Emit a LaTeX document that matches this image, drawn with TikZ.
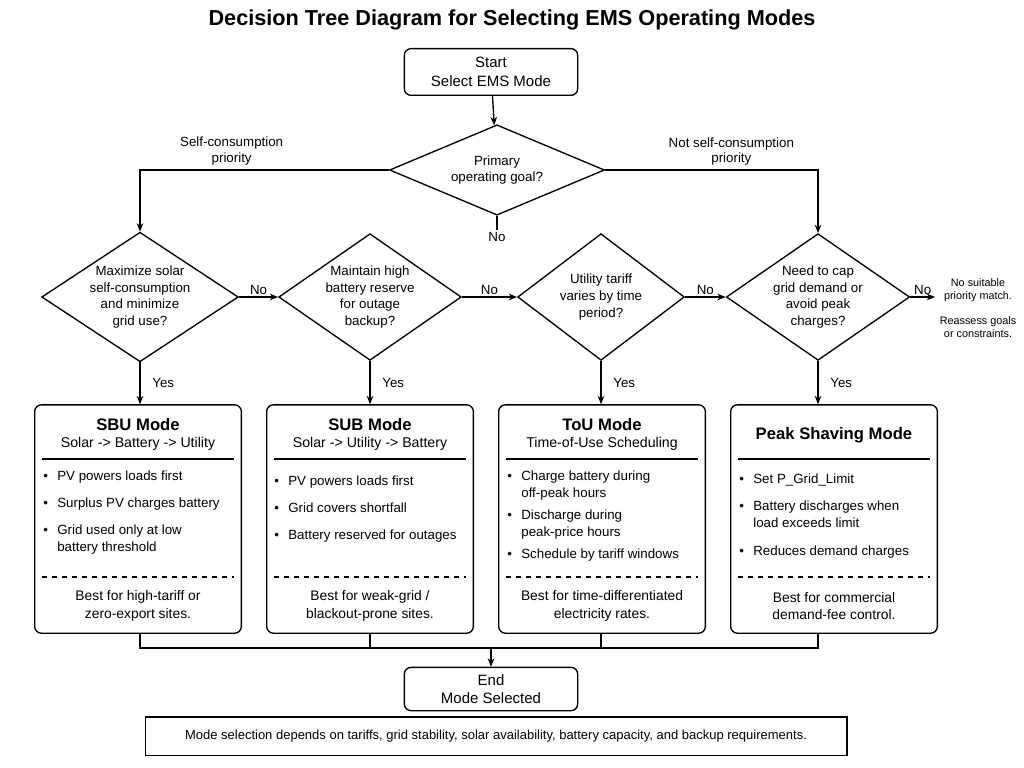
\documentclass[tikz,border=0pt]{standalone}
\usepackage{fontspec}
\setmainfont{Liberation Sans}
\usetikzlibrary{positioning}
\usetikzlibrary{shapes.geometric}
\usetikzlibrary{arrows.meta}
\tikzset{>={Stealth[length=5pt,width=4pt]}}
\tikzset{lbl/.style={font=\fontsize{8}{9.5}\selectfont,align=center,inner sep=1pt}}
\tikzset{term/.style={draw,thick,rounded corners=4pt,minimum width=104pt,minimum height=28pt,align=center,font=\fontsize{9}{11}\selectfont}}
\tikzset{dec/.style={draw,thick,diamond,aspect=1.5,inner sep=0pt,minimum width=118pt,minimum height=76pt,align=center,font=\fontsize{8}{10}\selectfont}}
\tikzset{mode/.style={draw,thick,rounded corners=4pt,minimum width=124pt,minimum height=137pt}}
\tikzset{btxt/.style={anchor=west,align=left,inner sep=0pt,font=\fontsize{8}{9.8}\selectfont}}
\newcommand{\bul}[3]{\node[btxt] at (#1+8,#2) {\textbullet}; \node[btxt,anchor=north west] at (#1+22,#2-6) {#3};}
\begin{document}
\begin{tikzpicture}[x=0.6pt,y=-0.6pt]
    \useasboundingbox (0,0) rectangle (1024,768);
    \node[font=\bfseries\fontsize{13}{15}\selectfont] (title) at (512,20) {Decision Tree Diagram for Selecting EMS Operating Modes};

    \node[term] (start) at (491,72) {Start\\Select EMS Mode};
    \node[dec,minimum width=129pt,minimum height=54pt] (goal) at (497,170) {Primary\\operating goal?};

    \node[dec] (d1) at (140,297) {Maximize solar\\self-consumption\\and minimize\\grid use?};
    \node[dec,minimum width=106pt] (d2) at (370,297) {Maintain high\\battery reserve\\for outage\\backup?};
    \node[dec,minimum width=100pt] (d3) at (601,297) {Utility tariff\\varies by time\\period?};
    \node[dec,minimum width=110pt] (d4) at (818,297) {Need to cap\\grid demand or\\avoid peak\\charges?};

    \node[lbl,font=\fontsize{6.5}{8}\selectfont] (nomatch) at (978,290) {No suitable\\priority match.};
    \node[lbl,font=\fontsize{6.5}{8}\selectfont] (reassess) at (978,327) {Reassess goals\\or constraints.};
    \coordinate (nm) at (935,297);

    % mode boxes
    \node[mode] (m1) at (138,519) {};
    \node[mode] (m2) at (370,519) {};
    \node[mode] (m3) at (602,519) {};
    \node[mode] (m4) at (834,519) {};
    \foreach \m/\x in {m1/138,m2/370,m3/602,m4/834} {
      \draw[thick] (\x-96,459) -- (\x+96,459);
      \draw[thick,dashed] (\x-96,577) -- (\x+96,577);
    }
    \node[font=\bfseries\fontsize{10}{12}\selectfont] at (138,425) {SBU Mode};
    \node[font=\fontsize{8.5}{10}\selectfont] at (138,444) {Solar -> Battery -> Utility};
    \node[font=\bfseries\fontsize{10}{12}\selectfont] at (370,425) {SUB Mode};
    \node[font=\fontsize{8.5}{10}\selectfont] at (370,444) {Solar -> Utility -> Battery};
    \node[font=\bfseries\fontsize{10}{12}\selectfont] at (602,425) {ToU Mode};
    \node[font=\fontsize{8.5}{10}\selectfont] at (602,444) {Time-of-Use Scheduling};
    \node[font=\bfseries\fontsize{10}{12}\selectfont] at (834,435) {Peak Shaving Mode};

    \bul{35}{477}{PV powers loads first}
    \bul{35}{504}{Surplus PV charges battery}
    \bul{35}{531}{Grid used only at low\\battery threshold}
    \bul{266}{482}{PV powers loads first}
    \bul{266}{509}{Grid covers shortfall}
    \bul{266}{536}{Battery reserved for outages}
    \bul{499}{477}{Charge battery during\\off-peak hours}
    \bul{499}{516}{Discharge during\\peak-price hours}
    \bul{499}{555}{Schedule by tariff windows}
    \bul{731}{480}{Set P\_Grid\_Limit}
    \bul{731}{507}{Battery discharges when\\load exceeds limit}
    \bul{731}{552}{Reduces demand charges}

    \node[lbl,font=\fontsize{8.3}{10.5}\selectfont] at (138,606) {Best for high-tariff or\\zero-export sites.};
    \node[lbl,font=\fontsize{8.3}{10.5}\selectfont] at (370,606) {Best for weak-grid /\\blackout-prone sites.};
    \node[lbl,font=\fontsize{8.3}{10.5}\selectfont] at (602,606) {Best for time-differentiated\\electricity rates.};
    \node[lbl,font=\fontsize{8.3}{10.5}\selectfont] at (834,606) {Best for commercial\\demand-fee control.};

    \node[term,minimum height=26pt] (end) at (491,689) {End\\Mode Selected};
    \node[draw,thick,minimum width=421pt,minimum height=23pt,font=\fontsize{7.8}{9}\selectfont] (note) at (496,736) {Mode selection depends on tariffs, grid stability, solar availability, battery capacity, and backup requirements.};

    % connectors
    \draw[thick,->] (start) -- (goal);
    \draw[thick,->] (goal.west) -| (d1.north) node[lbl,pos=0.55,above=5pt,xshift=55pt] {Self-consumption\\priority};
    \draw[thick,->] (goal.east) -| (d4.north) node[lbl,pos=0.55,above=5pt,xshift=-52pt] {Not self-consumption\\priority};
    \draw[thick] (goal.south) -- ++(0,14) node[lbl,below] {No};

    \draw[thick,->] (d1.east) -- (d2.west) node[lbl,midway,above] {No};
    \draw[thick,->] (d2.east) -- (d3.west) node[lbl,midway,above] {No};
    \draw[thick,->] (d3.east) -- (d4.west) node[lbl,midway,above] {No};
    \draw[thick,->] (d4.east) -- (nm) node[lbl,midway,above] {No};

    \foreach \d/\m in {d1/m1,d2/m2,d3/m3,d4/m4} {
      \draw[thick,->] (\d.south) -- (\d.south |- \m.north) node[lbl,midway,right=6pt] {Yes};
      \draw[thick] (\d.south |- \m.south) -- ++(0,15);
    }
    \draw[thick] (140,648) -- (818,648);
    \draw[thick,->] (end.north |- 0,648) -- (end.north);
\end{tikzpicture}
\end{document}
